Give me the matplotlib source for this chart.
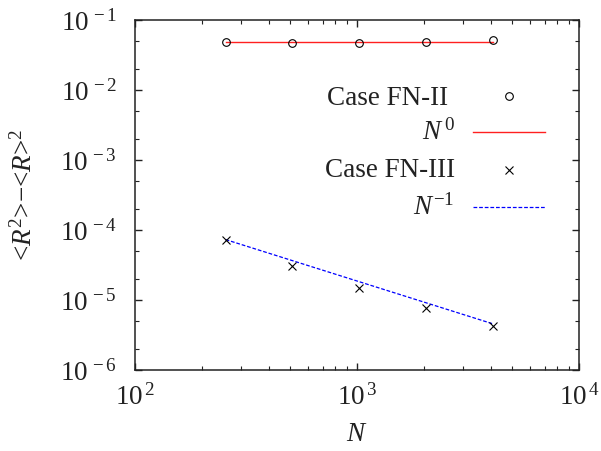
import matplotlib
matplotlib.use('Agg')
import matplotlib.pyplot as plt
from matplotlib.lines import Line2D
from matplotlib.ticker import FuncFormatter, LogLocator, NullFormatter
import numpy as np

plt.rcParams['font.family'] = 'serif'
plt.rcParams['font.serif'] = ['Liberation Serif', 'DejaVu Serif']
plt.rcParams['mathtext.fontset'] = 'custom'
plt.rcParams['mathtext.rm'] = 'Liberation Serif'
plt.rcParams['mathtext.it'] = 'Liberation Serif:italic'
plt.rcParams['mathtext.default'] = 'regular'

# data
N = [256, 512, 1024, 2048, 4096]
var_fn2 = [0.048, 0.0465, 0.0475, 0.049, 0.052]
var_fn3 = [7.3e-5, 3.1e-5, 1.47e-5, 7.6e-6, 4.25e-6]
fit0_level = 0.048        # N^0 fit
fit1_coef = 7.3e-5 * 256  # N^-1 fit

fs = 19.5

fig = plt.figure(figsize=(6.01, 4.51), dpi=100)
ax = fig.add_axes([0.2246, 0.1796, 0.7388, 0.776])

Nf = np.array([N[0], N[-1]], dtype=float)
ax.plot(Nf, fit0_level * Nf**0, color='#ff2020', lw=1.0)
ax.plot(Nf, fit1_coef / Nf, color='#0000ff', lw=0.9, ls=(0, (3, 1.5)))
ax.plot(N, var_fn2, 'o', mfc='none', mec='black', ms=5.5, mew=0.8)
ax.plot(N, var_fn3, 'x', color='black', ms=5.5, mew=0.8)

ax.set_xscale('log')
ax.set_yscale('log')
ax.set_xlim(1e2, 1e4)
ax.set_ylim(1e-6, 1e-1)

ax.xaxis.set_minor_locator(LogLocator(base=10, subs=np.arange(2, 10)))
ax.yaxis.set_minor_locator(LogLocator(base=10, subs=[2, 5]))
ax.xaxis.set_minor_formatter(NullFormatter())
ax.yaxis.set_minor_formatter(NullFormatter())
fmt = FuncFormatter(lambda v, p: r'$10^{\,%d}$' % round(np.log10(v)))
ax.xaxis.set_major_formatter(fmt)
ax.yaxis.set_major_formatter(fmt)

ax.tick_params(which='both', direction='in', top=True, right=True,
               labelsize=fs, color='#222222', labelcolor='#222222')
ax.tick_params(which='major', length=5, width=1.0)
ax.tick_params(which='minor', length=2.8, width=0.8)
ax.tick_params(axis='y', which='major', pad=13)
ax.tick_params(axis='x', which='major', pad=10)
for s in ax.spines.values():
    s.set_linewidth(1.1)
    s.set_color('#222222')

ax.set_xlabel(r'$\mathit{N}$', fontsize=fs, color='#222222', labelpad=8)
ax.set_ylabel(r'<$\mathit{R}^{2}$>$-$<$\mathit{R}$>$^{2}$', fontsize=fs,
              color='#222222', labelpad=16)

# key, gnuplot style: right aligned text, sample to the right
labels = ['Case FN-II', r'$\mathit{N}^{\,0}$', 'Case FN-III', r'$\mathit{N}^{-1}$']
rows = [0.776, 0.68, 0.571, 0.466]
text_x = [0.705, 0.721, 0.721, 0.719]
x0, x1, xm = 0.761, 0.923, 0.842
for lab, yy, tx in zip(labels, rows, text_x):
    ax.text(tx, yy, lab, transform=ax.transAxes, ha='right', va='center',
            fontsize=fs, color='#222222')
ax.add_line(Line2D([xm], [0.783], transform=ax.transAxes, marker='o',
                   mfc='none', mec='black', ms=5.5, mew=0.8, ls='none'))
ax.add_line(Line2D([x0, x1], [rows[1]] * 2, transform=ax.transAxes,
                   color='#ff2020', lw=1.0))
ax.add_line(Line2D([xm], [rows[2]], transform=ax.transAxes, marker='x',
                   color='black', ms=5.5, mew=0.8, ls='none'))
ax.add_line(Line2D([x0, x1], [rows[3]] * 2, transform=ax.transAxes,
                   color='#0000ff', lw=0.9, ls=(0, (3, 1.5))))

fig.savefig('out.png', dpi=100)
